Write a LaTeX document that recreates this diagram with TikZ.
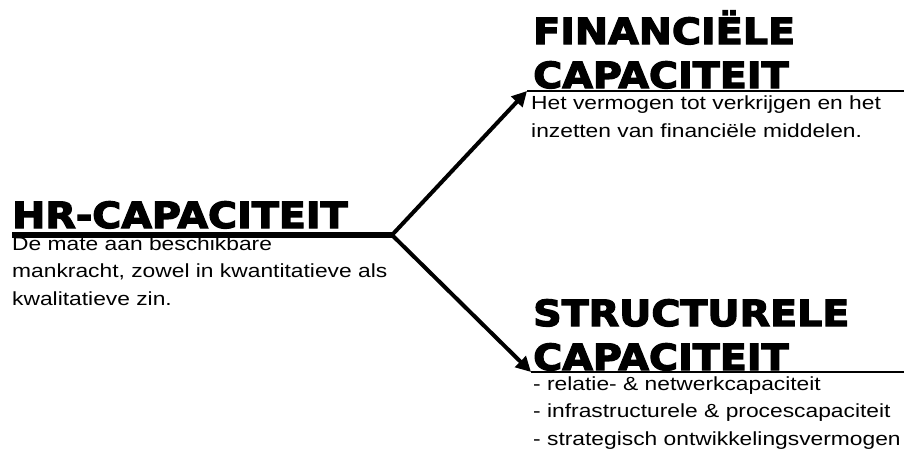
\documentclass[tikz,border=0pt]{standalone}
\usepackage{fontspec}
\setmainfont{Liberation Sans}
\newfontfamily\kopfont[FakeStretch=1.1,FakeBold=3.5]{DejaVu Sans Bold}
\newfontfamily\tekstfont[FakeStretch=1.2]{Liberation Sans}
\usetikzlibrary{arrows.meta}

\begin{document}
\begin{tikzpicture}[x=1pt,y=-1pt]
        % Setup the styles for the titles and the texts
        \tikzset{title style/.style={anchor=base west,
                                     inner sep=0pt,
                                     align=left,
                                     font=\kopfont\fontsize{36}{44}\selectfont},
                 text style/.style={anchor=base west,
                                    inner sep=0pt,
                                    align=left,
                                    font=\tekstfont\fontsize{19}{27.5}\selectfont}}
        \useasboundingbox (0,0) rectangle (904,450);

        % Draw the titles (placed at the baseline of their last line)
        \node[title style] at (12, 228)  (hr)    {HR-CAPACITEIT};
        \node[title style] at (533, 88)  (fin)   {FINANCIËLE\\CAPACITEIT};
        \node[title style] at (533, 370) (struc) {STRUCTURELE\\CAPACITEIT};

        % Draw the texts
        \node[text style] at (12, 305)  (hr text)    {De mate aan beschikbare\\mankracht, zowel in kwantitatieve als\\kwalitatieve zin.};
        \node[text style] at (531, 137) (fin text)   {Het vermogen tot verkrijgen en het\\inzetten van financiële middelen.};
        \node[text style] at (533, 445) (struc text) {- relatie- \& netwerkcapaciteit\\- infrastructurele \& procescapaciteit\\- strategisch ontwikkelingsvermogen};

        % Points where the lines meet
        \coordinate (split)     at (392, 235);
        \coordinate (fin tip)   at (527, 91);
        \coordinate (fin end)   at (904, 91);
        \coordinate (struc tip) at (531, 372);
        \coordinate (struc end) at (904, 372);

        % Connect the titles
        \draw[line width=6pt] ([yshift=-7pt]hr.base west) -- (split);
        \draw[line width=4pt,
              {Triangle[length=15pt,width=15pt]}-{Triangle[length=15pt,width=15pt]}]
            (fin tip) -- (split) -- (struc tip);
        \draw[line width=2pt] (fin tip) -- (fin end);
        \draw[line width=2pt] (struc tip) -- (struc end);
\end{tikzpicture}
\end{document}
